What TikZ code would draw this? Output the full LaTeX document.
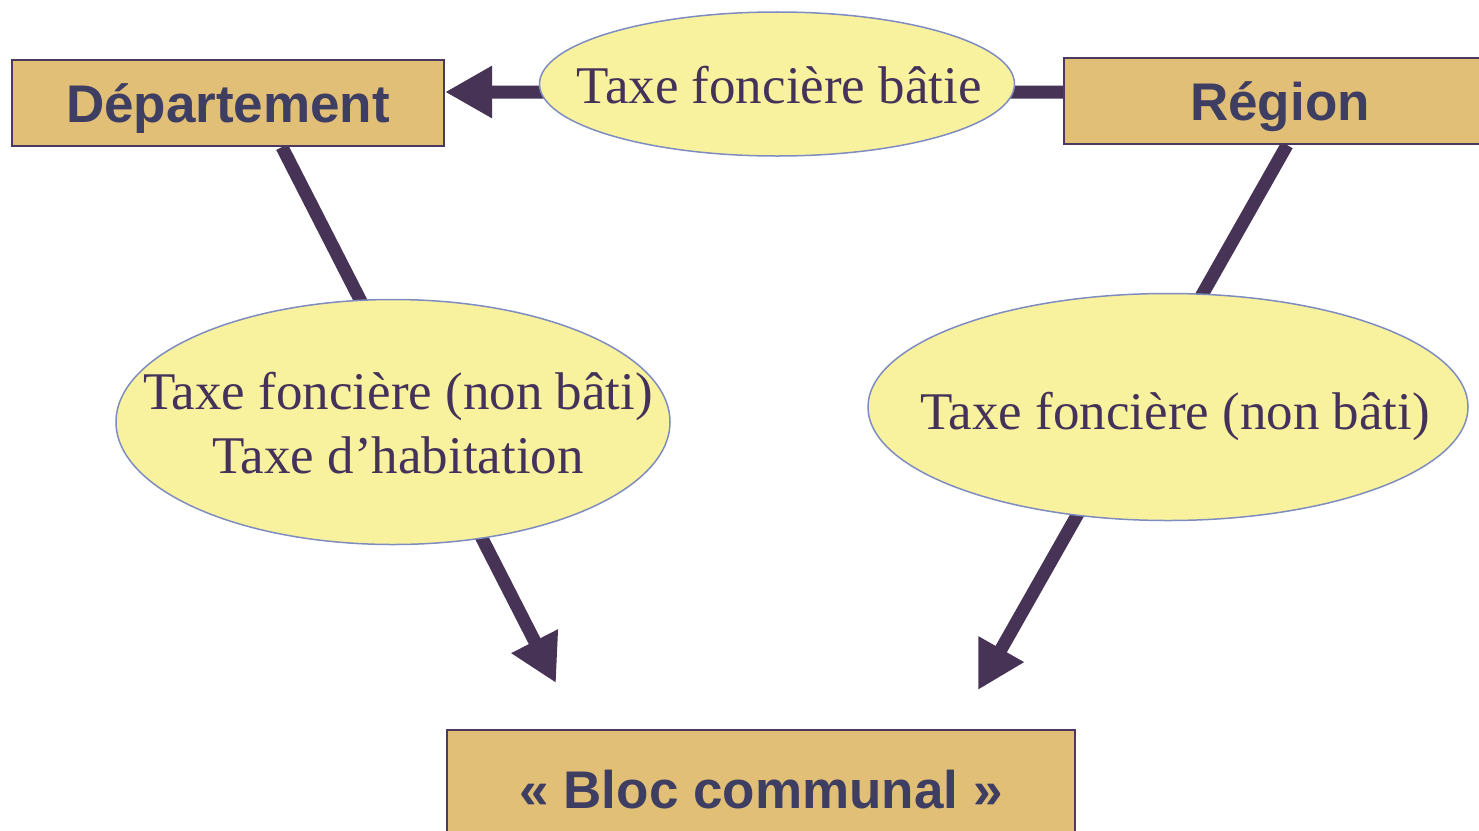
\documentclass[tikz,border=0pt]{standalone}
\usepackage{fontspec}
\setmainfont{Liberation Serif}
\newfontfamily\boxfont{Liberation Sans}
\usetikzlibrary{arrows.meta,shapes.geometric}
\definecolor{boxfill}{HTML}{E2BF76}
\definecolor{boxline}{HTML}{4A3A60}
\definecolor{boxtext}{HTML}{3E3E62}
\definecolor{ellfill}{HTML}{F8F29E}
\definecolor{ellline}{HTML}{7F8CC0}
\definecolor{elltext}{HTML}{45325A}
\definecolor{arrcol}{HTML}{463356}
\pgfdeclarelayer{bg}
\pgfsetlayers{bg,main}
\tikzset{
  boxnode/.style={rectangle, draw=boxline, line width=2bp, fill=boxfill,
    text=boxtext, font=\boxfont\bfseries\fontsize{53bp}{64bp}\selectfont,
    inner sep=0pt, minimum height=86bp, text height=38bp, text depth=0pt},
  ellnode/.style={ellipse, draw=ellline, line width=1.5bp, fill=ellfill, inner sep=0pt},
  elltxt/.style={text=elltext, font=\fontsize{53bp}{64bp}\selectfont, align=center, inner sep=0pt},
  conn/.style={draw=arrcol, line width=13bp},
  arr/.style={conn, -{Triangle[length=47bp,width=49bp]}},
}
\begin{document}
\begin{tikzpicture}[x=1bp,y=-1bp]
\useasboundingbox (0,0) rectangle (1479,830);
\clip (0,0) rectangle (1479,830);
% boxes
\node[boxnode, minimum width=432bp] (dep) at (228,103) {Département};
\node[boxnode, minimum width=432bp] (reg) at (1280,101) {Région};
\node[boxnode, minimum width=628bp, minimum height=118bp] (bloc) at (761,789) {« Bloc communal »};
% ellipses
\node[ellnode, minimum width=475bp, minimum height=144bp] (top) at (777,84) {};
\node[elltxt, text height=35bp, text depth=0pt] (toptxt) at (779,86) {Taxe foncière bâtie};
\node[ellnode, minimum width=554bp, minimum height=245bp] (left) at (393,422) {};
\node[elltxt] (lefttxt) at (398,423) {Taxe foncière (non bâti)\\Taxe d’habitation};
\node[ellnode, minimum width=600bp, minimum height=227bp] (right) at (1168,407) {};
\node[elltxt, text height=35bp, text depth=0pt] (righttxt) at (1175,412) {Taxe foncière (non bâti)};
% free ends of arrows
\coordinate (tipL) at (556,683);
\coordinate (tipR) at (978,690);
\begin{pgfonlayer}{bg}
\draw[arr] ([yshift=9bp]reg.west) -- ([yshift=11bp]dep.east);
\draw[arr] ([xshift=54bp]dep.south) -- (tipL);
\draw[arr] ([xshift=7bp]reg.south) -- (tipR);
\end{pgfonlayer}
\end{tikzpicture}
\end{document}
